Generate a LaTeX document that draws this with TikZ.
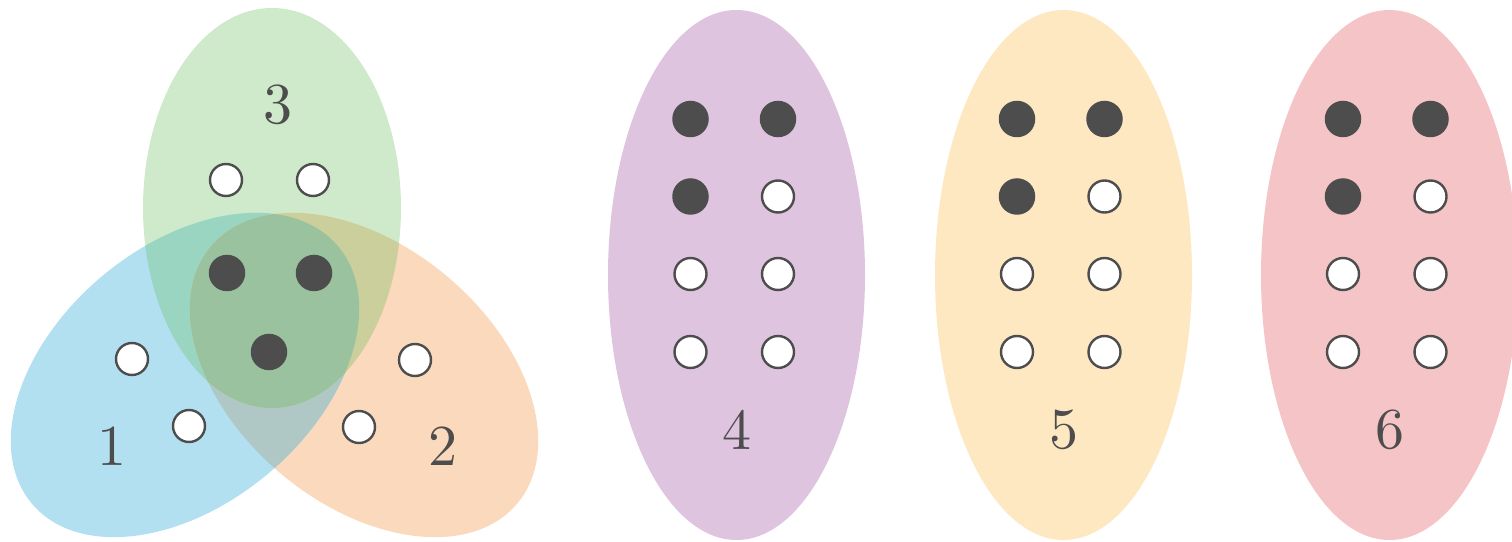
\documentclass[tikz,border=0pt]{standalone}
\usepackage{fontspec}
\newfontfamily\digitfont{lmroman10-regular}[Extension=.otf]
\usetikzlibrary{shapes.geometric}
\definecolor{cblue}{HTML}{B2E0F1}
\definecolor{corange}{HTML}{FAD9BC}
\definecolor{cgreen}{HTML}{CFEACA}
\definecolor{cbg}{HTML}{9AD5C2}
\definecolor{cgo}{HTML}{CBCF9C}
\definecolor{cbo}{HTML}{AFC8C6}
\definecolor{ctri}{HTML}{9AC29F}
\definecolor{cpurple}{HTML}{DFC4DF}
\definecolor{cyellow}{HTML}{FDE8C1}
\definecolor{cpink}{HTML}{F5C4C6}
\definecolor{dgray}{HTML}{4D4D4D}
\newcommand{\pgreen}{(272,333) ellipse [x radius=129, y radius=200]}
\newcommand{\pblue}{[rotate around={40:(185,166)}] (185,166) ellipse [x radius=200, y radius=129]}
\newcommand{\porange}{[rotate around={-40:(364,166)}] (364,166) ellipse [x radius=200, y radius=129]}
\begin{document}
\begin{tikzpicture}[x=1pt,y=1pt,
  wdot/.style={circle, draw=dgray, fill=white, line width=2.4pt, minimum size=32pt, inner sep=0pt},
  bdot/.style={circle, fill=dgray, minimum size=36.5pt, inner sep=0pt},
  lbl/.style={text=dgray, font=\digitfont\fontsize{58}{58}\selectfont, inner sep=0pt}]
\useasboundingbox (0,0) rectangle (1512,541);
% Venn regions
\fill[cgreen] \pgreen;
\fill[corange] \porange;
\fill[cblue] \pblue;
\begin{scope}
  \clip \pblue;
  \fill[cbo] \porange;
\end{scope}
\begin{scope}
  \clip \pblue;
  \fill[cbg] \pgreen;
\end{scope}
\begin{scope}
  \clip \porange;
  \fill[cgo] \pgreen;
\end{scope}
\begin{scope}
  \clip \pblue;
  \clip \porange;
  \fill[ctri] \pgreen;
\end{scope}
% Venn dots
\node[wdot] (g1) at (226,361) {};
\node[wdot] (g2) at (313,361) {};
\node[bdot] (c1) at (227,268) {};
\node[bdot] (c2) at (314,268) {};
\node[bdot] (c3) at (269,189) {};
\node[wdot] (b1) at (132,182) {};
\node[wdot] (b2) at (189,115) {};
\node[wdot] (o1) at (415,181) {};
\node[wdot] (o2) at (359,114) {};
\node[lbl] (l1) at (112,95) {1};
\node[lbl] (l2) at (443,95) {2};
\node[lbl] (l3) at (278,436) {3};
% right ellipses
\fill[cpurple] (736.5,266) ellipse [x radius=128.5, y radius=265];
\fill[cyellow] (1063.5,266) ellipse [x radius=128.5, y radius=265];
\fill[cpink] (1389.5,266) ellipse [x radius=128.5, y radius=265];
\foreach \cx/\n in {690.5/p, 1017/y, 1343/k}{
  \pgfmathsetmacro{\cxx}{\cx+87.5}
  \node[bdot] (\n11) at (\cx,422) {};
  \node[bdot] (\n12) at (\cxx,422) {};
  \node[bdot] (\n21) at (\cx,344.5) {};
  \node[wdot] (\n22) at (\cxx,344.5) {};
  \node[wdot] (\n31) at (\cx,267) {};
  \node[wdot] (\n32) at (\cxx,267) {};
  \node[wdot] (\n41) at (\cx,189) {};
  \node[wdot] (\n42) at (\cxx,189) {};
}
\node[lbl] (l4) at (736.5,111) {4};
\node[lbl] (l5) at (1063.5,111) {5};
\node[lbl] (l6) at (1389.5,111) {6};
\end{tikzpicture}
\end{document}
